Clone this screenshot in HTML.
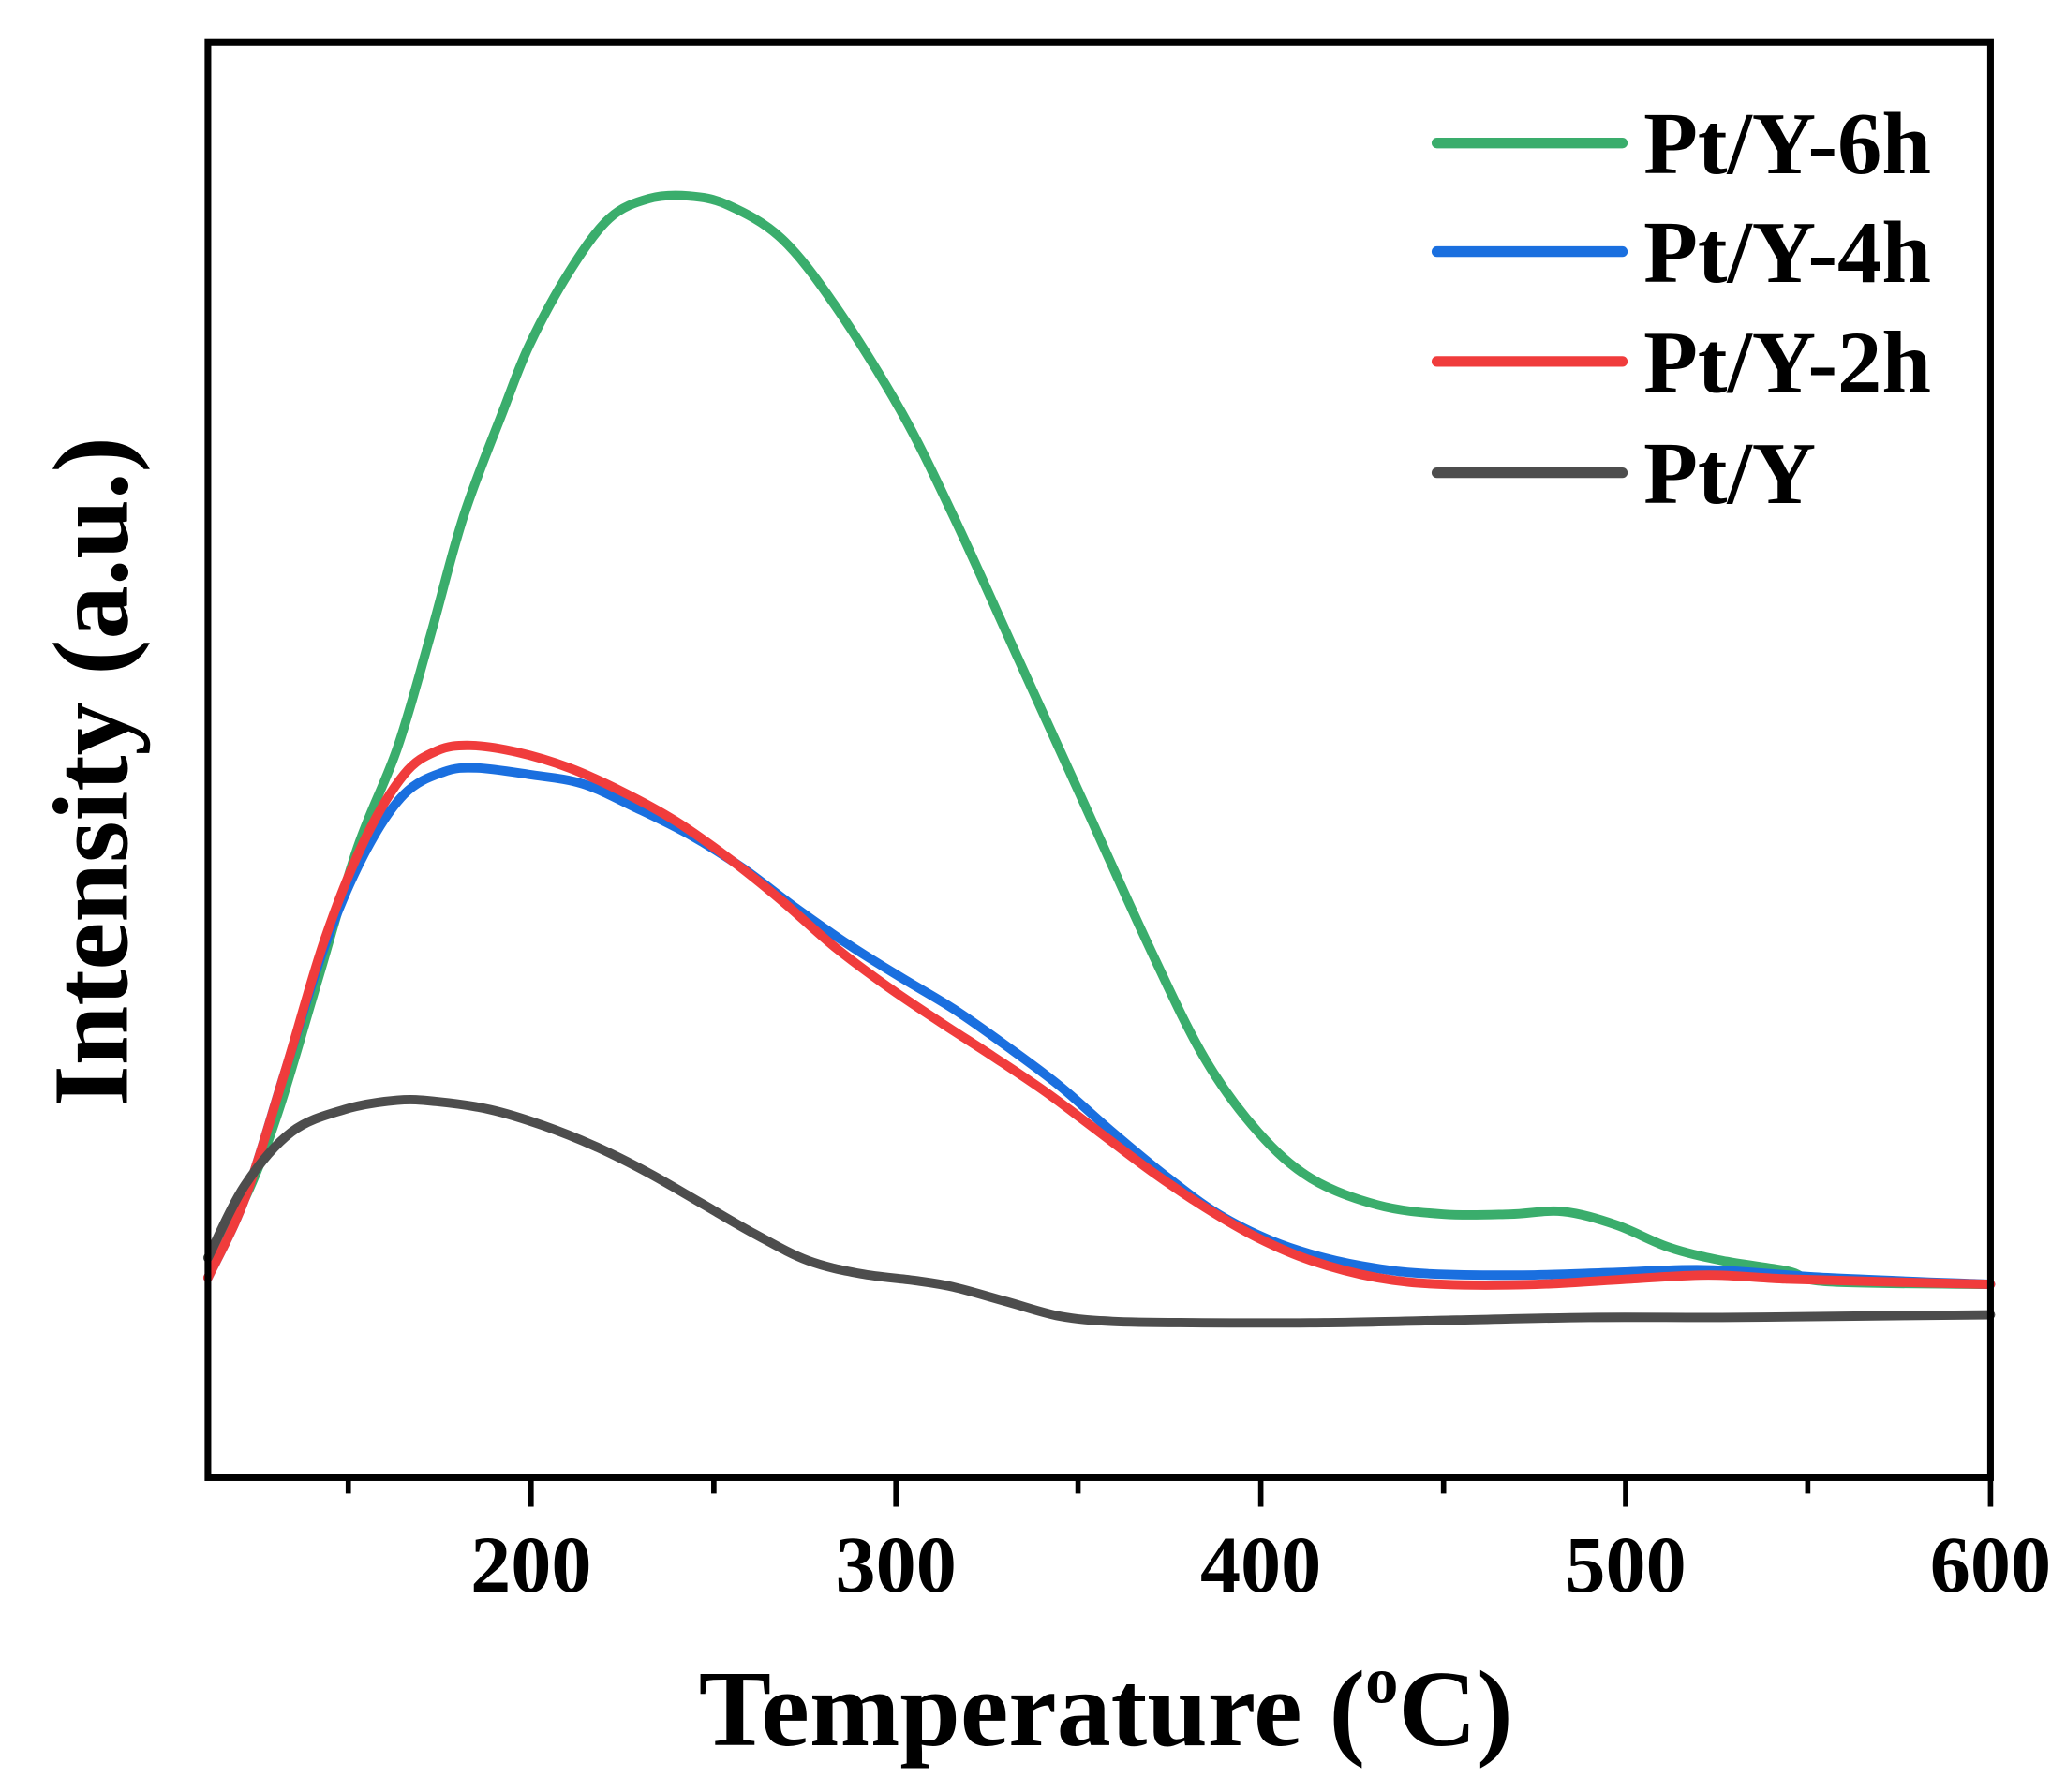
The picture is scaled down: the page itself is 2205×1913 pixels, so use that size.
<!DOCTYPE html>
<html><head><style>html,body{margin:0;padding:0;background:#fff;}svg{display:block;}</style></head>
<body>
<svg id="s" width="2205" height="1913" viewBox="0 0 1560 1353.4" xmlns="http://www.w3.org/2000/svg" font-family="'Liberation Serif', serif" font-weight="bold">
<rect width="1560" height="1353.4" fill="#fff"/>
<g fill="none" stroke-width="7" stroke-linejoin="round" stroke-linecap="round">
<polyline class="c" stroke="#3aad6c" points="157,950 185,905 210,840 240,740 270,640 300,565 325,480 350,390 380,310 400,260 430,205 460,165 490,150 520,148 550,155 590,180 630,230 680,310 720,390 770,500 820,610 870,720 910,800 950,855 990,890 1040,910 1090,917 1140,917 1180,915 1220,925 1260,942 1300,952 1350,960 1380,968 1503,970"/>
<polyline class="c" stroke="#1a6fdf" points="157,965 185,905 215,810 245,715 275,645 305,600 335,583 360,580 400,585 440,592 480,610 520,630 560,655 600,685 640,713 680,738 720,762 760,790 800,820 840,855 880,888 920,917 960,937 1000,950 1040,958 1080,962 1150,963 1220,961 1290,959 1380,965 1503,970"/>
<polyline class="c" stroke="#f03c3c" points="157,965 185,905 215,810 245,710 275,635 305,585 330,567 355,563 390,568 430,580 470,598 510,620 550,648 590,680 630,715 670,745 710,772 750,798 790,825 830,855 870,885 910,912 950,935 990,952 1040,965 1090,970 1160,970 1230,966 1290,963 1350,966 1420,968 1503,970"/>
<polyline class="c" stroke="#4d4d4d" points="157,950 185,895 220,855 260,838 300,831 330,832 370,838 410,850 450,866 490,886 530,909 570,932 610,952 650,962 690,967 720,972 760,983 800,994 840,998 900,999 1000,999 1100,997 1200,995 1300,995 1400,994 1503,993"/>
</g>
<rect x="157" y="32" width="1346" height="1084" fill="none" stroke="#000" stroke-width="5"/>
<g stroke="#000" stroke-width="4">
<line x1="401" y1="1116" x2="401" y2="1138"/><line x1="676.5" y1="1116" x2="676.5" y2="1138"/>
<line x1="952" y1="1116" x2="952" y2="1138"/><line x1="1227.5" y1="1116" x2="1227.5" y2="1138"/>
<line x1="1503" y1="1116" x2="1503" y2="1138"/>
<line x1="263" y1="1116" x2="263" y2="1128"/><line x1="539" y1="1116" x2="539" y2="1128"/>
<line x1="814" y1="1116" x2="814" y2="1128"/><line x1="1090" y1="1116" x2="1090" y2="1128"/>
<line x1="1365" y1="1116" x2="1365" y2="1128"/>
</g>
<g font-size="61" text-anchor="middle" fill="#000">
<text x="401" y="1202">200</text><text x="676.5" y="1202">300</text><text x="952" y="1202">400</text>
<text x="1227.5" y="1202">500</text><text x="1503" y="1202">600</text>
</g>
<text x="835" y="1318" font-size="82" text-anchor="middle">Temperature (<tspan font-size="50" dy="-32">o</tspan><tspan dy="32">C)</tspan></text>
<text transform="translate(96,583) rotate(-90)" font-size="81" text-anchor="middle">Intensity (a.u.)</text>
<g stroke-width="8" stroke-linecap="round">
<line x1="1085" y1="108" x2="1225" y2="108" stroke="#3aad6c"/>
<line x1="1085" y1="190" x2="1225" y2="190" stroke="#1a6fdf"/>
<line x1="1085" y1="273" x2="1225" y2="273" stroke="#f03c3c"/>
<line x1="1085" y1="357" x2="1225" y2="357" stroke="#4d4d4d"/>
</g>
<g font-size="67" fill="#000">
<text x="1241" y="131">Pt/Y-6h</text><text x="1241" y="213">Pt/Y-4h</text>
<text x="1241" y="296">Pt/Y-2h</text><text x="1241" y="380">Pt/Y</text>
</g>
</svg>
<script>
document.querySelectorAll('polyline.c').forEach(function(pl){
  var p=pl.getAttribute('points').trim().split(/\s+/).map(function(s){return s.split(',').map(Number);});
  var d='M'+p[0][0]+','+p[0][1];
  for(var i=0;i<p.length-1;i++){
    var p0=p[i-1]||p[i],p1=p[i],p2=p[i+1],p3=p[i+2]||p2;
    var c1x=p1[0]+(p2[0]-p0[0])/6,c1y=p1[1]+(p2[1]-p0[1])/6;
    var c2x=p2[0]-(p3[0]-p1[0])/6,c2y=p2[1]-(p3[1]-p1[1])/6;
    d+=' C'+c1x+','+c1y+' '+c2x+','+c2y+' '+p2[0]+','+p2[1];
  }
  var path=document.createElementNS('http://www.w3.org/2000/svg','path');
  path.setAttribute('d',d);path.setAttribute('stroke',pl.getAttribute('stroke'));
  pl.parentNode.replaceChild(path,pl);
});
</script>
</body></html>
